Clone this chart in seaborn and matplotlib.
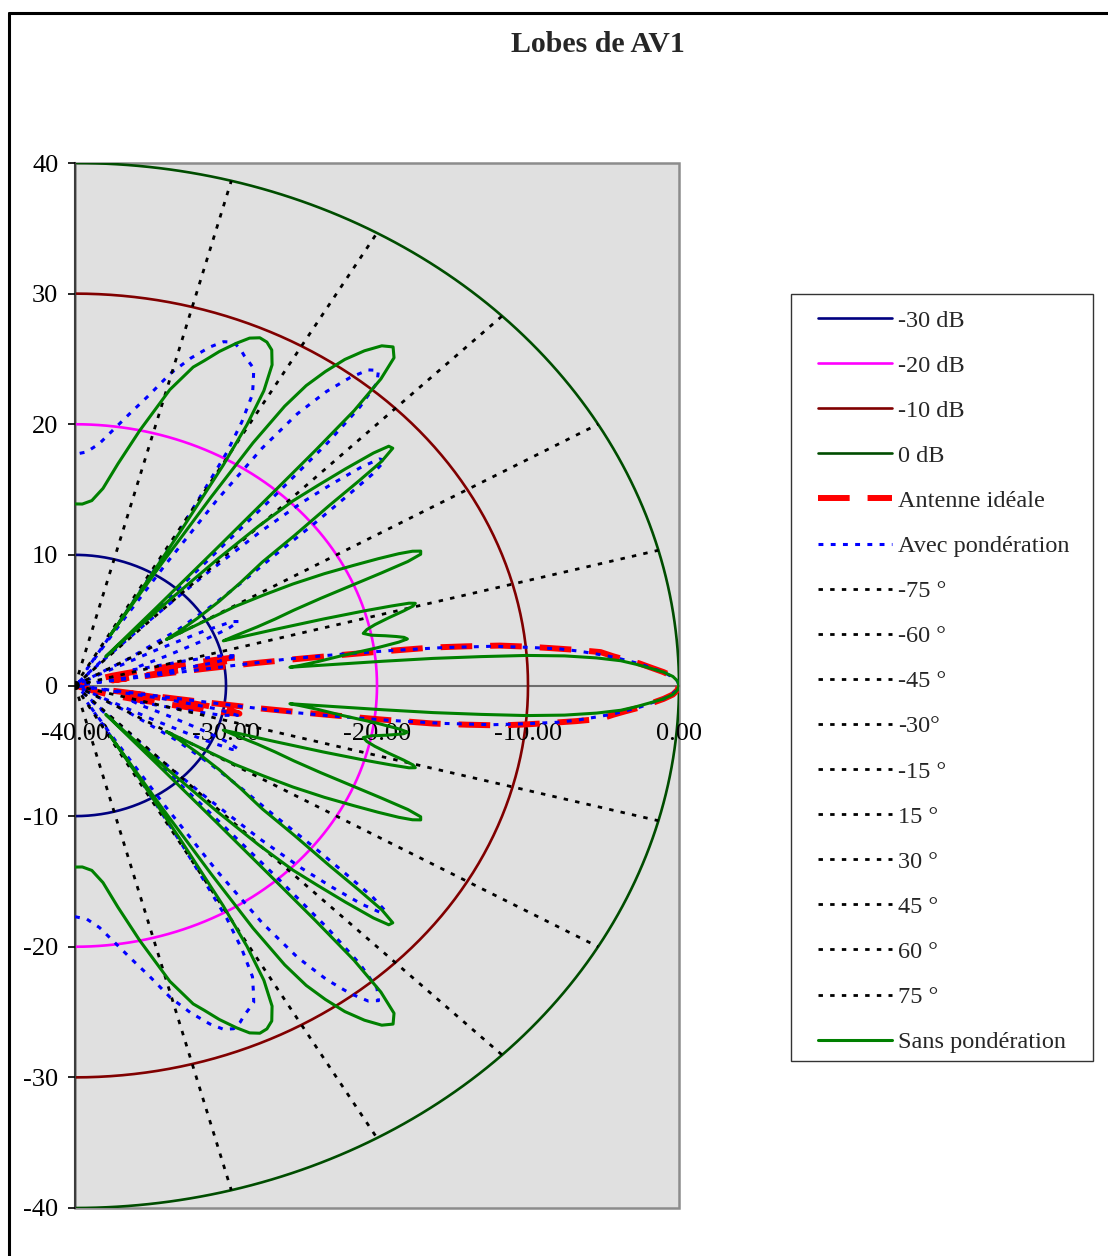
import numpy as np
import pandas as pd
import matplotlib
matplotlib.use("Agg")
import matplotlib.pyplot as plt
import seaborn as sns
from matplotlib.patches import Rectangle
from matplotlib.lines import Line2D
from matplotlib.ticker import FormatStrFormatter

sns.set_theme(style="white")
plt.rcParams["font.family"] = ["Liberation Serif", "DejaVu Serif"]
plt.rcParams["axes.unicode_minus"] = False

# ---------------------------------------------------------------------------
# Radiation pattern data: angle (deg) and level (dB); the plot floor is -40 dB.
# Patterns are symmetric, so only the 0..90 deg half is listed.
# ---------------------------------------------------------------------------
FLOOR_DB = -40

ISO_DB = [-30, -20, -10, 0]
ISO_LABELS = ["-30 dB", "-20 dB", "-10 dB", "0 dB"]
ISO_COLORS = ["#000080", "#ff00ff", "#800000", "#004d00"]

RAY_DEG = [-75, -60, -45, -30, -15, 15, 30, 45, 60, 75]
RAY_LABELS = ["-75 °", "-60 °", "-45 °", "-30°", "-15 °",
              "15 °", "30 °", "45 °", "60 °", "75 °"]

# Ideal antenna
IDEAL_DEG = [0, 0.5, 1, 1.5, 2.1, 2.6, 3.1, 3.6, 4.2, 4.7, 5.2, 5.7, 6.2, 6.6, 7.0,
             7.3, 7.6, 7.9, 8.2, 8.5, 8.8, 9.1,
             9.6, 10.1, 10.6, 11.2, 11.6, 12.1, 12.6, 13.8, 15.2, 16.8, 18, 19, 90]
IDEAL_DB = [0, -0.1, -0.4, -1.0, -1.9, -2.6, -3.5, -4.3, -5.1, -6.7, -8.4, -10, -11.7, -13.9, -16.1,
            -19.4, -22.7, -25.5, -28, -31.5, -35, -37.5,
            -33, -31, -29.5, -28.9, -29.5, -31, -32.4, -34.7, -36.2, -37.4, -38.5, -40, -40]

# Weighted array
AVEC_DEG = [0, 0.5, 1, 1.5, 2, 2.5, 3, 3.5, 4, 4.5, 5, 5.6, 6.2, 6.8, 7.3, 7.8,
            8.2, 8.3, 8.4, 8.6, 9.0,
            9.8, 10.8, 12, 13.2, 14.5, 16, 17.5, 19, 20.5, 22, 23.2, 24.3, 25.2, 26, 26.8, 27.5, 28,
            30, 32, 34, 35.5, 37, 38, 38.8, 39.4, 40, 40.7, 41.4, 42.2, 43, 43.8, 44.6, 45.3, 46, 46.5,
            47, 47.4, 47.7, 48, 48.5, 49.2, 50.2, 51.2, 52.3, 53.5, 54.7, 55.7, 56.5, 57.1, 57.6, 58,
            58.5, 59.2, 59.8, 60.2, 60.6, 61.3, 62.2, 63.2, 64, 65, 66, 67, 68.2, 69.5, 71, 73,
            75.2, 77.5, 80, 82.5, 85, 87.5, 90]
AVEC_DB = [0, -0.1, -0.5, -1.0, -1.8, -2.5, -3.4, -4.3, -5.4, -6.5, -7.8, -10, -12.2, -15.5, -19, -22.7,
           -26, -30, -34, -37.5, -40,
           -34, -30.5, -29, -30, -32.5, -35, -36, -35.5, -33.5, -31, -29, -28.1, -28.5, -30.5, -34, -38, -40,
           -36, -32, -29, -26.5, -23.5, -20, -17, -14.5, -13.2, -13.4, -14.7, -17, -19.5, -23, -28, -33, -37.5, -40,
           -36, -28, -20, -15, -11.5, -9.4, -8.6, -9.0, -10.2, -12, -14.5, -18, -23, -29, -35, -38.5,
           -36, -31, -26, -23, -19.5, -17, -14.8, -13.8, -13, -12.7, -12.4, -12, -11.7, -11.9, -12.6, -13.8,
           -15.3, -17.2, -18.8, -20.2, -21.4, -22.1, -22.3]

# Unweighted array
SANS_DEG = [0, 0.5, 1, 1.5, 2, 2.5, 3, 3.5, 4, 4.4, 4.7, 5.0, 5.2, 5.4, 5.6,
            5.9, 6.5, 7.4, 8.2, 8.8, 9.2, 9.6, 10.0, 10.5, 11.1, 11.8, 12.5, 13.2, 14.0, 14.7,
            15.2, 15.6, 15.9, 16.2, 16.6, 17.2, 18.0, 18.7, 19.2,
            19.7, 20.4, 21.0, 21.7, 22.3, 22.7, 23.0, 23.3, 23.7, 24.2, 24.7, 25.2, 25.8, 26.5,
            27.4, 28.3, 29.0, 29.7, 30.2,
            31, 32.4, 34, 35.7, 37.3, 38.3, 39.3, 39.8, 40.2, 40.8, 41.4, 42.0, 42.8, 43.6, 44.4,
            45.1, 45.7, 46.3, 46.9, 47.4,
            47.9, 48.2, 48.4, 48.5, 48.7, 49.2, 49.9, 50.9, 52.0, 53.2, 54.4, 55.4, 56.3, 57.0,
            57.6, 58.0, 58.4, 58.8,
            59.0, 59.4, 59.8, 60.3, 61.0, 62.0, 63.1, 64.2, 65.3, 66.5, 67.8, 69.5, 71.0, 72.2,
            74.5, 77.6, 80.5, 83, 85.5, 88, 90]
SANS_DB = [0, -0.1, -0.4, -1.0, -1.9, -2.8, -3.8, -5.4, -7.5, -10, -13, -16.2, -19.5, -23, -25.7,
           -25.0, -23.8, -22.1, -19.8, -18.3, -17.7, -17.9, -18.4, -19.1, -20.0, -20.5, -20.2, -19.6, -18.6, -17.5,
           -16.8, -16.6, -17.0, -18.2, -20.0, -22.8, -26.2, -28.5, -29.6,
           -28.8, -27.1, -25.8, -24.4, -22.4, -20.2, -18.0, -16.0, -15.0, -14.9, -15.4, -16.3, -17.7, -19.4,
           -21.4, -23.6, -25.7, -27.8, -33,
           -32, -30.4, -28.5, -26.5, -24.4, -21.5, -18.2, -15.5, -13.4, -12.2, -12.3, -13.4, -15.6, -17.8, -19.8,
           -22.8, -26.5, -31.0, -35.0, -37.0,
           -32, -26, -20, -16, -12, -9.0, -7.2, -6.6, -7.0, -8.0, -9.3, -10.8, -12.4, -14.5,
           -18.0, -23.0, -29.0, -35.5,
           -32, -26, -20.5, -17.0, -14.2, -12.2, -11.2, -10.8, -10.7, -11.0, -11.7, -12.7, -13.7, -14.4,
           -16.5, -20.0, -22.8, -24.8, -25.8, -26.1, -26.1]


def mirrored(deg, db):
    deg = list(deg)
    db = list(db)
    return [-a for a in deg[:0:-1]] + deg, db[:0:-1] + db


def to_xy(deg, db):
    r = np.clip(np.asarray(db, float) - FLOOR_DB, 0, None)
    t = np.deg2rad(np.asarray(deg, float))
    return pd.DataFrame({"x": r * np.cos(t) + FLOOR_DB, "y": r * np.sin(t)})


# ---------------------------------------------------------------------------
W, H = 1108, 1256
fig = plt.figure(figsize=(W / 100, H / 100), dpi=100)
fig.patch.set_facecolor("white")

ax = fig.add_axes([75 / W, 1 - 1208 / H, (679 - 75) / W, (1208 - 163) / H])
ax.set_facecolor("#e0e0e0")

handles = []
labels = []

# iso-level circles
half_turn = np.linspace(-90, 90, 361)
for lvl, lab, col in zip(ISO_DB, ISO_LABELS, ISO_COLORS):
    d = to_xy(half_turn, np.full_like(half_turn, lvl))
    sns.lineplot(data=d, x="x", y="y", sort=False, estimator=None, ax=ax,
                 color=col, lw=1.9, zorder=2)
    handles.append(ax.lines[-1]); labels.append(lab)

# ideal antenna
sns.lineplot(data=to_xy(*mirrored(IDEAL_DEG, IDEAL_DB)), x="x", y="y", sort=False,
             estimator=None, ax=ax, color="#ff0000", lw=4.3,
             linestyle=(0, (5.3, 3.0)), zorder=3)
handles.append(ax.lines[-1]); labels.append("Antenne idéale")

# weighted array
sns.lineplot(data=to_xy(*mirrored(AVEC_DEG, AVEC_DB)), x="x", y="y", sort=False,
             estimator=None, ax=ax, color="#0000ff", lw=2.2,
             linestyle=(0, (1.6, 2.4)), zorder=4)
handles.append(ax.lines[-1]); labels.append("Avec pondération")

# angle rays
for a, lab in zip(RAY_DEG, RAY_LABELS):
    d = to_xy([a, a], [FLOOR_DB, 0])
    sns.lineplot(data=d, x="x", y="y", sort=False, estimator=None, ax=ax,
                 color="black", lw=2.0, linestyle=(0, (1.6, 2.6)), zorder=5)
    handles.append(ax.lines[-1]); labels.append(lab)

# unweighted array
sns.lineplot(data=to_xy(*mirrored(SANS_DEG, SANS_DB)), x="x", y="y", sort=False,
             estimator=None, ax=ax, color="#008000", lw=2.2, zorder=6)
handles.append(ax.lines[-1]); labels.append("Sans pondération")

ax.set_xlim(-40, 0)
ax.set_ylim(-40, 40)
ax.set_xlabel("")
ax.set_ylabel("")
ax.set_axisbelow(False)

# axes styling: x axis sits on y = 0
for s in ["top", "right"]:
    ax.spines[s].set_visible(False)
ax.spines["bottom"].set_position(("data", 0))
ax.spines["bottom"].set_color("#6e6e6e")
ax.spines["bottom"].set_linewidth(1.5)
ax.spines["bottom"].set_zorder(1.5)
ax.spines["left"].set_color("#3c3c3c")
ax.spines["left"].set_linewidth(1.5)
ax.add_patch(Rectangle((0, 0), 1, 1, transform=ax.transAxes, fill=False,
                       ec="#8c8c8c", lw=1.8, zorder=1.4, clip_on=False))

ax.set_xticks([-40, -30, -20, -10, 0])
ax.xaxis.set_major_formatter(FormatStrFormatter("%.2f"))
ax.set_yticks(range(-40, 41, 10))
ax.tick_params(axis="x", length=0, pad=27, labelsize=19, colors="black")
ax.tick_params(axis="y", direction="out", length=5, width=1.2, pad=7,
               labelsize=19, colors="black", left=True)
for t in ax.get_xticklabels() + ax.get_yticklabels():
    t.set_zorder(10)

# title
fig.text(598 / W, 1 - 45 / H, "Lobes de AV1", ha="center", va="center",
         fontsize=21.5, fontweight="bold")

# legend
leg = ax.legend(handles, labels, loc="upper left",
                bbox_to_anchor=(818 / W, 1 - 309.5 / H), bbox_transform=fig.transFigure,
                frameon=False, fontsize=17.5, handlelength=3.05, handletextpad=0.25,
                labelspacing=0.95, borderpad=0, borderaxespad=0)
fig.patches.append(Rectangle((791 / W, 1 - 1061 / H), (1093 - 791) / W, (1061 - 294) / H,
                             transform=fig.transFigure, fill=False, ec="#333333", lw=1.0))

# outer chart frame
fig.lines.append(Line2D([9 / W, 9 / W], [0, 1 - 13 / H], transform=fig.transFigure,
                        color="black", lw=2.2))
fig.lines.append(Line2D([9 / W, 1], [1 - 13 / H, 1 - 13 / H], transform=fig.transFigure,
                        color="black", lw=2.2))

fig.savefig("out.png", dpi=100)
